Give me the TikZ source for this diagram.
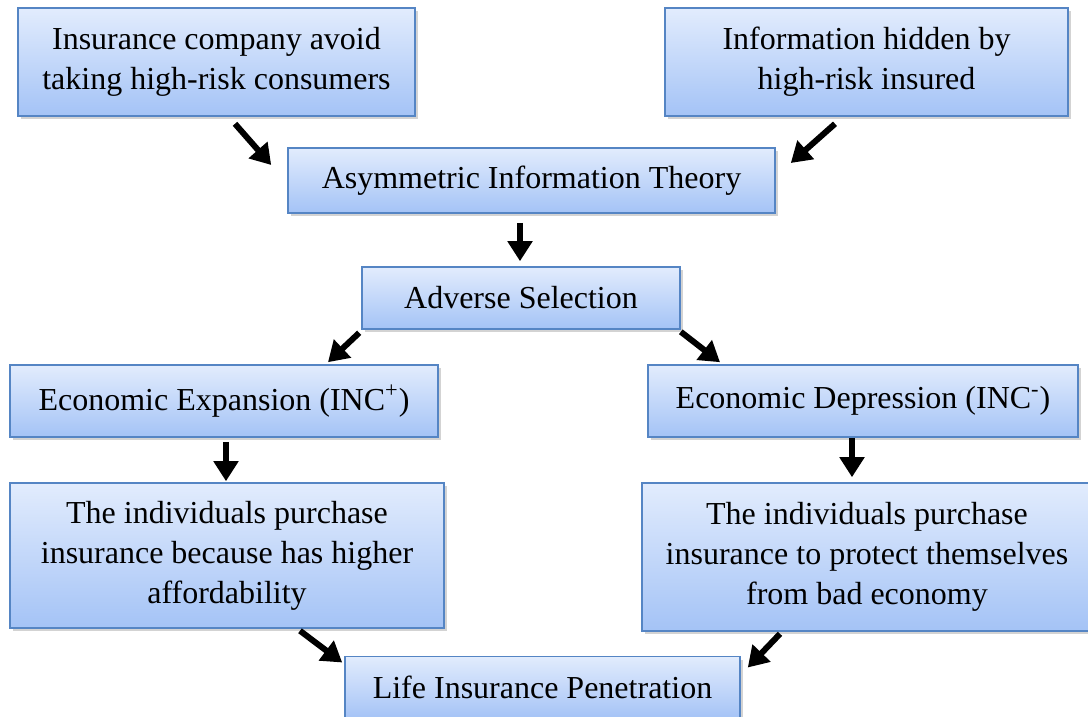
\documentclass[tikz,border=0pt]{standalone}
\usepackage{fontspec}
\setmainfont{Liberation Serif}
\usetikzlibrary{arrows.meta,shadows}
\definecolor{boxtop}{HTML}{E2ECFD}
\definecolor{boxbot}{HTML}{A4C3F6}
\definecolor{boxline}{HTML}{5585C4}
\begin{document}
\begin{tikzpicture}[
  x=0.5pt, y=-0.5pt,
  box/.style={draw=boxline, line width=0.8pt, top color=boxtop, bottom color=boxbot,
    drop shadow={opacity=0.35, shadow xshift=1.5pt, shadow yshift=-1.5pt},
    font=\fontsize{16}{20}\selectfont, align=center, inner sep=0pt},
  arr/.style={line width=3pt, -{Triangle[length=10pt, width=12pt]}},
]
\useasboundingbox (0,0) rectangle (1088,717);

\node[box, minimum width=198.5pt, minimum height=54pt] (inscomp) at (216.5, 62)
  {Insurance company avoid\\taking high-risk consumers};
\node[box, minimum width=201.5pt, minimum height=54pt] (hidden) at (866.5, 62)
  {Information hidden by\\high-risk insured};

\node[box, minimum width=243.5pt, minimum height=32.5pt] (asym) at (531.5, 180.5)
  {Asymmetric Information Theory};
\node[box, minimum width=159pt, minimum height=31pt] (adverse) at (521, 298)
  {Adverse Selection};

\node[box, minimum width=214pt, minimum height=36pt] (expand) at (224, 401)
  {Economic Expansion (INC\textsuperscript{+})};
\node[box, minimum width=215pt, minimum height=36pt] (depress) at (863, 401)
  {Economic Depression (INC\textsuperscript{-})};

\node[box, minimum width=217pt, minimum height=72.5pt] (afford) at (227, 555.5)
  {The individuals purchase\\insurance because has higher\\affordability};
\node[box, minimum width=225pt, minimum height=74pt] (protect) at (867, 557)
  {The individuals purchase\\insurance to protect themselves\\from bad economy};

\node[box, minimum width=197.5pt, minimum height=31pt] (life) at (542.5, 687.5)
  {Life Insurance Penetration};

% arrows
\draw[arr] ([shift={(18.5,7)}]inscomp.south) -- ([shift={(-16,-15.5)}]asym.west);
\draw[arr] ([shift={(-31.5,7)}]hidden.south) -- ([shift={(15,-17.5)}]asym.east);
\draw[arr] ([shift={(-11.5,9)}]asym.south) -- ([shift={(-1,-5)}]adverse.north);
\draw[arr] ([shift={(-2,3)}]adverse.south west) -- ([shift={(104,-2)}]expand.north);
\draw[arr] ([shift={(0,2)}]adverse.south east) -- ([shift={(-143,-2)}]depress.north);
\draw[arr] ([shift={(2,4)}]expand.south) -- ([shift={(-1,-1)}]afford.north);
\draw[arr] ([shift={(-11,0)}]depress.south) -- ([shift={(-15,-5)}]protect.north);
\draw[arr] ([shift={(73,2)}]afford.south) -- ([shift={(-2,-25)}]life.west);
\draw[arr] ([shift={(-87,2)}]protect.south) -- ([shift={(7,-20)}]life.east);

\end{tikzpicture}
\end{document}
